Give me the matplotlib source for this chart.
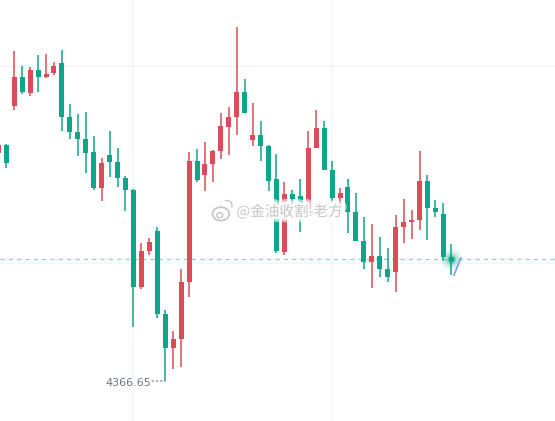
import numpy as np
import matplotlib.pyplot as plt
import matplotlib.patheffects as pe
from matplotlib.patches import Ellipse, Arc

plt.rcParams['font.family'] = ['Noto Sans CJK SC', 'DejaVu Sans']

# candles, oldest first (first one is cut off by the left edge)
opens = [4430.49, 4432.73, 4443.65, 4451.77, 4447.29, 4453.73, 4451.77, 4452.89, 4455.69, 4440.57,
         4436.37, 4434.41, 4430.77, 4420.69, 4429.93, 4427.97, 4423.49, 4420.13, 4392.97, 4403.05,
         4408.65, 4385.41, 4375.89, 4378.41, 4394.37, 4428.25, 4424.33, 4427.41, 4431.05, 4437.77,
         4440.57, 4447.57, 4434.13, 4435.53, 4432.45, 4423.21, 4402.77, 4419.01, 4418.45, 4412.85,
         4431.89, 4437.49, 4425.73, 4417.89, 4420.97, 4413.97, 4405.85, 4399.97, 4401.65, 4398.01,
         4397.17, 4409.77, 4411.17, 4411.73, 4422.65, 4415.09, 4413.41, 4401.37]
highs = [4433.01, 4433.01, 4459.05, 4454.85, 4454.57, 4457.93, 4458.21, 4455.97, 4459.33, 4444.21,
         4441.41, 4441.97, 4435.25, 4429.09, 4436.65, 4431.89, 4424.05, 4420.41, 4405.29, 4406.69,
         4409.77, 4386.45, 4380.65, 4398.01, 4430.77, 4431.61, 4433.57, 4431.33, 4441.69, 4443.37,
         4465.77, 4451.21, 4444.49, 4439.45, 4432.73, 4430.21, 4422.37, 4420.13, 4423.21, 4436.65,
         4442.53, 4439.45, 4428.25, 4420.69, 4423.21, 4419.29, 4412.57, 4410.61, 4406.97, 4403.89,
         4413.13, 4417.61, 4414.53, 4431.05, 4424.33, 4417.33, 4416.49, 4405.01]
lows = [4429.93, 4426.29, 4442.53, 4447.01, 4446.45, 4447.57, 4451.49, 4452.33, 4436.65, 4434.41,
        4429.65, 4424.89, 4420.13, 4417.05, 4423.77, 4420.97, 4414.25, 4381.77, 4392.41, 4401.93,
        4384.29, 4366.65, 4370.01, 4370.57, 4390.17, 4422.37, 4419.85, 4422.37, 4428.81, 4429.93,
        4435.53, 4441.69, 4432.45, 4428.25, 4419.85, 4402.49, 4401.93, 4415.93, 4408.37, 4412.57,
        4431.89, 4425.73, 4416.77, 4415.37, 4408.09, 4405.85, 4398.01, 4392.69, 4395.77, 4394.37,
        4391.57, 4405.29, 4406.41, 4408.93, 4406.13, 4412.57, 4400.25, 4396.33]
closes = [4432.73, 4427.69, 4451.77, 4447.57, 4453.73, 4451.77, 4452.61, 4454.85, 4440.57, 4436.37,
          4434.41, 4430.49, 4420.69, 4427.69, 4427.97, 4423.49, 4420.13, 4392.97, 4403.05, 4405.57,
          4385.41, 4375.89, 4378.41, 4394.37, 4428.25, 4422.93, 4427.41, 4431.05, 4438.05, 4440.57,
          4447.57, 4441.69, 4435.53, 4432.45, 4422.65, 4403.05, 4419.01, 4417.61, 4412.57, 4431.89,
          4437.49, 4425.73, 4417.89, 4419.29, 4413.97, 4405.85, 4399.97, 4401.65, 4398.01, 4395.77,
          4409.77, 4411.17, 4411.73, 4422.65, 4415.09, 4413.97, 4401.37, 4400.81]

# faint grid positions
grid_x = [17, 42]
grid_y = [4399.55, 4454.85]

# small drawing near the last candle
trend_x = [57.34, 58.19]
trend_y = [4396.33, 4401.09]

watermark = '@金油收割-老方'

up_color = '#dc4b58'
down_color = '#0ea68a'

x = np.arange(len(opens))
o = np.array(opens)
h = np.array(highs)
l = np.array(lows)
c = np.array(closes)
colors = [up_color if cc >= oo else down_color for oo, cc in zip(o, c)]

fig = plt.figure(figsize=(5.55, 4.21), dpi=100)
ax = fig.add_axes([0, 0, 1, 1])
ax.set_xlim(0.207, 70.05)
ax.set_ylim(4355.45, 4473.33)

ax.set_xticks(grid_x)
ax.set_yticks(grid_y)
ax.grid(color='#f4f5f7', lw=1.1)
ax.tick_params(length=0, labelbottom=False, labelleft=False)
for s in ax.spines.values():
    s.set_visible(False)

# last price line
ax.axhline(c[-1], color='#8fd4c5', lw=1, ls=(0, (3, 3)), zorder=1)

ax.vlines(x, l, h, colors=colors, lw=1.1, zorder=2)
body_h = np.maximum(np.abs(c - o), 0.45)
ax.bar(x, body_h, bottom=np.minimum(o, c), width=0.63, color=colors, lw=0, zorder=3)

# glow on last price
for s, a in [(260, 0.06), (160, 0.10), (90, 0.16), (45, 0.25)]:
    ax.scatter(x[-1], c[-1], s=s, color=down_color, alpha=a, lw=0, zorder=4)
ax.scatter(x[-1], c[-1], s=18, color=down_color, lw=0, zorder=5)

ax.plot(trend_x, trend_y, color='#7d9ef4', lw=1.2, zorder=5)

# lowest low label
lo = int(np.argmin(l))
ax.annotate('', xy=(x[lo], l[lo]), xytext=(-13, 0), textcoords='offset pixels',
            arrowprops=dict(arrowstyle='-', color='#8a8f99', lw=1, ls=(0, (1, 2)),
                            shrinkA=0, shrinkB=0))
ax.annotate(f'{l[lo]:.2f}', xy=(x[lo], l[lo]), xytext=(-14, -2), textcoords='offset pixels',
            ha='right', va='center', fontsize=8, color='#70757f', family='DejaVu Sans')

# watermark in the middle
ax.text(0.522, 0.497, watermark, transform=ax.transAxes, ha='center', va='center',
        fontsize=10.5, color='#c8c8c8', zorder=6,
        path_effects=[pe.withStroke(linewidth=7, foreground=(1, 1, 1, 0.6)),
                      pe.withStroke(linewidth=3.5, foreground=(1, 1, 1, 0.9))])
ax.add_patch(Ellipse((0.398, 0.492), 0.030, 0.032, transform=ax.transAxes, fill=False,
                     ec='#c8c8c8', lw=1.3, zorder=6))
ax.add_patch(Ellipse((0.396, 0.489), 0.011, 0.012, transform=ax.transAxes, fill=False,
                     ec='#c8c8c8', lw=1, zorder=6))
ax.add_patch(Arc((0.409, 0.512), 0.018, 0.024, theta1=-30, theta2=110, transform=ax.transAxes,
                 ec='#c8c8c8', lw=1, zorder=6))

fig.savefig('out.png', dpi=100)
